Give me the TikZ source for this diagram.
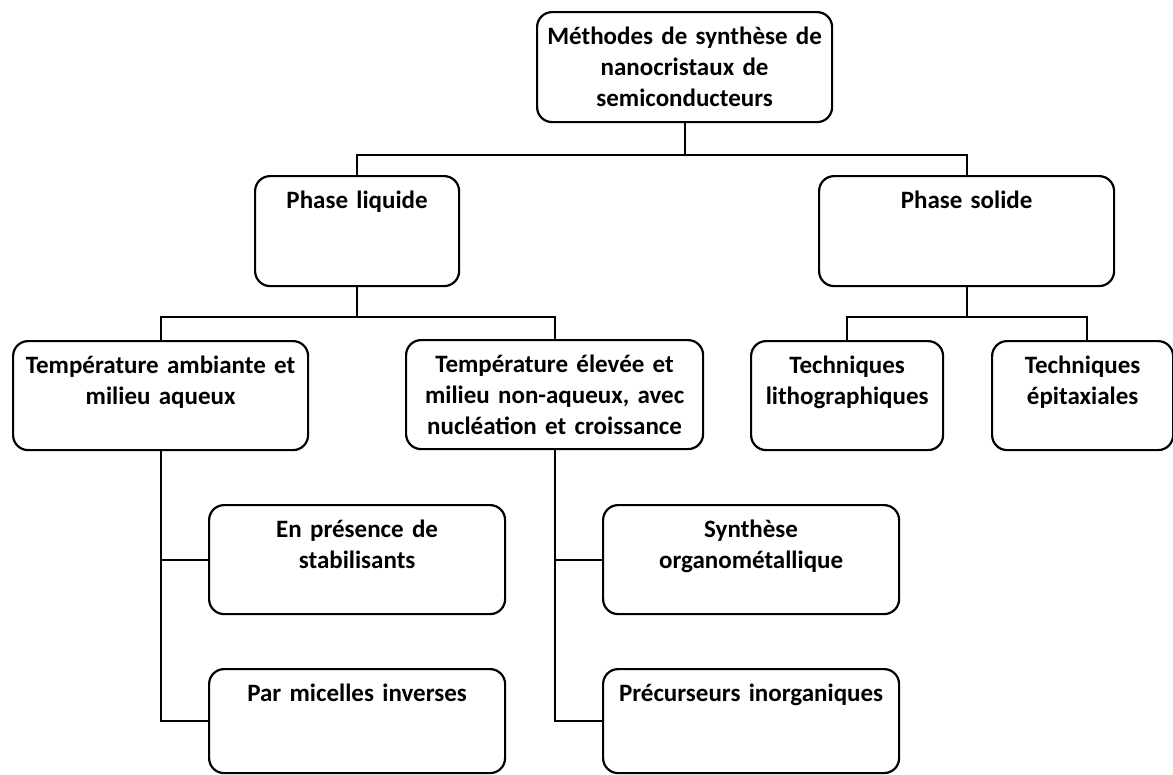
\documentclass[tikz,border=0pt]{standalone}
\usepackage{fontspec}
\setmainfont{Carlito}

\begin{document}
\begin{tikzpicture}[
  x=1pt, y=-1pt,
  box/.style={draw, rounded corners=15pt, line width=2.2pt, align=center, anchor=north west,
    inner xsep=2pt, inner ysep=8pt, text height=24pt, text depth=70pt,
    font=\fontsize{25}{31}\selectfont\bfseries},
  link/.style={line width=2.2pt}
]
\useasboundingbox (0,0) rectangle (1173,774);

\node[box, text width=291pt] (root) at (536,11) {Méthodes de synthèse de\\nanocristaux de\\semiconducteurs};
\node[box, text width=200pt] (liq) at (254,175) {Phase liquide};
\node[box, text width=291pt] (sol) at (818,175) {Phase solide};
\node[box, text width=291pt, text depth=69pt] (amb) at (12,340) {Température ambiante et\\milieu aqueux};
\node[box, text width=293pt, text depth=69pt] (elev) at (405,339) {Température élevée et\\milieu non-aqueux, avec\\nucléation et croissance};
\node[box, text width=188pt, text depth=69pt] (litho) at (750,340) {Techniques\\lithographiques};
\node[box, text width=177pt, text depth=69pt] (epi) at (991,340) {Techniques\\épitaxiales};
\node[box, text width=292pt, text depth=69pt] (stab) at (208,504) {En présence de\\stabilisants};
\node[box, text width=292pt, text depth=64pt] (mic) at (208,668) {Par micelles inverses};
\node[box, text width=292pt, text depth=69pt] (organo) at (602,504) {Synthèse\\organométallique};
\node[box, text width=292pt, text depth=64pt] (inorg) at (602,668) {Précurseurs inorganiques};

\draw[link] (root.south) -- ++(0,32) coordinate (j1);
\draw[link] (liq.north) |- (j1) -| (sol.north);
\draw[link] (liq.south) -- ++(0,30) coordinate (j2);
\draw[link] (amb.north) |- (j2) -| (elev.north);
\draw[link] (sol.south) -- ++(0,30) coordinate (j3);
\draw[link] (litho.north) |- (j3) -| ([xshift=4pt]epi.north);
\draw[link] (amb.south) |- (stab.west);
\draw[link] (amb.south) |- (mic.west);
\draw[link] (elev.south) |- (organo.west);
\draw[link] (elev.south) |- (inorg.west);
\end{tikzpicture}
\end{document}
